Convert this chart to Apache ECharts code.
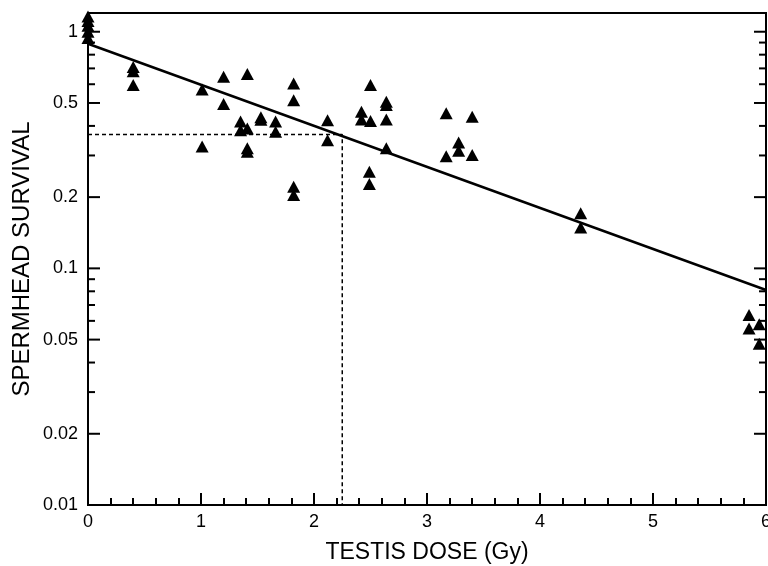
<!DOCTYPE html>
<html>
<head>
<meta charset="utf-8">
<script src="https://cdn.jsdelivr.net/npm/echarts@6/dist/echarts.min.js"></script>
<style>
html, body { margin: 0; padding: 0; background: #fff; }
#graph01 { width: 768px; height: 566px; }
</style>
</head>
<body>
<div id="graph01"></div>
<script>
// measured points (dose in Gy, spermhead survival fraction)
var doseGy = [
    0, 0, 0, 0, 0,
    0.4, 0.4, 0.4,
    1.01, 1.01,
    1.2, 1.2,
    1.35, 1.35,
    1.41, 1.41, 1.41, 1.41,
    1.53, 1.53,
    1.66, 1.66,
    1.82, 1.82, 1.82, 1.82,
    2.12, 2.12,
    2.42, 2.42,
    2.5, 2.5, 2.49, 2.49,
    2.64, 2.64, 2.64, 2.64,
    3.17, 3.17,
    3.28, 3.28,
    3.4, 3.4,
    4.36, 4.36,
    5.85, 5.85,
    5.94, 5.94
];
var survival = [
    1.16, 1.11, 1.06, 1.0, 0.94,
    0.71, 0.68, 0.595,
    0.57, 0.327,
    0.645, 0.495,
    0.417, 0.383,
    0.663, 0.39, 0.322, 0.311,
    0.435, 0.425,
    0.417, 0.378,
    0.605, 0.514, 0.221, 0.204,
    0.423, 0.348,
    0.459, 0.426,
    0.595, 0.42, 0.256, 0.227,
    0.506, 0.49, 0.426, 0.322,
    0.452, 0.298,
    0.34, 0.314,
    0.437, 0.301,
    0.171, 0.149,
    0.0635, 0.0557,
    0.058, 0.048
];
// fitted exponential line
var fitDose = [0, 6];
var fitSurvival = [0.89, 0.081];
// D37 guide lines
var guideDose = [0, 2.25, 2.25];
var guideSurvival = [0.368, 0.368, 0.01];
// y axis ticks
var yMajorTicks = [1, 0.5, 0.2, 0.1, 0.05, 0.02, 0.01];
var yTickLabels = ['1', '0.5', '0.2', '0.1', '0.05', '0.02', '0.01'];
var yMinorTicks = [0.9, 0.8, 0.7, 0.6, 0.4, 0.3, 0.09, 0.08, 0.07, 0.06, 0.04, 0.03];

var FONT = "'Liberation Sans', Arial, Helvetica, sans-serif";

var pts = doseGy.map(function (d, i) { return [d, survival[i]]; });
var fitLine = fitDose.map(function (d, i) { return [d, fitSurvival[i]]; });
var guideLine = guideDose.map(function (d, i) { return [d, guideSurvival[i]]; });
var tickData = yMajorTicks.map(function (v) { return [0, v, 1]; })
    .concat(yMinorTicks.map(function (v) { return [0, v, 0]; }));

var myChart = echarts.init(document.getElementById('graph01'), null, { renderer: 'canvas' });
var option = {
    animation: false,
    grid: {
        left: 88,
        right: 2,
        top: 13,
        bottom: 61,
        outerBoundsMode: 'none',
        containLabel: false,
        show: true,
        borderColor: '#000',
        borderWidth: 2,
        backgroundColor: 'transparent'
    },
    xAxis: {
        type: 'value',
        min: 0,
        max: 6,
        interval: 1,
        name: 'TESTIS DOSE (Gy)',
        nameLocation: 'middle',
        nameGap: 36,
        nameTextStyle: { fontFamily: FONT, fontSize: 23, color: '#000' },
        axisLine: { show: true, onZero: false, lineStyle: { color: '#000', width: 2 } },
        axisTick: { show: true, inside: true, length: 12, lineStyle: { color: '#000', width: 2 } },
        minorTick: { show: true, splitNumber: 5, length: 7, lineStyle: { color: '#000', width: 2 } },
        axisLabel: { margin: 8, fontFamily: FONT, fontSize: 18, color: '#000' },
        splitLine: { show: false }
    },
    yAxis: {
        type: 'log',
        logBase: 10,
        min: 0.01,
        max: 1.2,
        name: 'SPERMHEAD SURVIVAL',
        nameLocation: 'middle',
        nameGap: 54,
        nameTextStyle: { fontFamily: FONT, fontSize: 24, color: '#000' },
        axisLine: { show: true, lineStyle: { color: '#000', width: 2 } },
        axisTick: { show: false },
        axisLabel: { show: false },
        splitLine: { show: false }
    },
    series: [
        {
            name: 'ticks',
            type: 'custom',
            silent: true,
            data: tickData,
            renderItem: function (params, api) {
                var v = api.value(1);
                var major = api.value(2) === 1;
                var l = api.coord([0, v]);
                var r = api.coord([6, v]);
                var len = major ? 12 : 7;
                var kids = [
                    { type: 'line', shape: { x1: l[0], y1: l[1], x2: l[0] + len, y2: l[1] }, style: { stroke: '#000', lineWidth: 2 } },
                    { type: 'line', shape: { x1: r[0], y1: r[1], x2: r[0] - len, y2: r[1] }, style: { stroke: '#000', lineWidth: 2 } }
                ];
                if (major) {
                    kids.push({
                        type: 'text',
                        x: l[0] - 10,
                        y: l[1],
                        style: {
                            text: yTickLabels[params.dataIndex],
                            align: 'right',
                            verticalAlign: 'middle',
                            fontFamily: FONT,
                            fontSize: 18,
                            fill: '#000'
                        }
                    });
                }
                return { type: 'group', children: kids };
            }
        },
        {
            name: 'guide',
            type: 'line',
            data: guideLine,
            symbol: 'none',
            lineStyle: { color: '#000', width: 1.5, type: [4, 3] }
        },
        {
            name: 'fit',
            type: 'line',
            data: fitLine,
            symbol: 'none',
            lineStyle: { color: '#000', width: 2.5 }
        },
        {
            name: 'data',
            type: 'scatter',
            data: pts,
            symbol: 'triangle',
            symbolSize: [13, 12],
            itemStyle: { color: '#000', opacity: 1 }
        }
    ]
};
myChart.setOption(option);
</script>
</body>
</html>
